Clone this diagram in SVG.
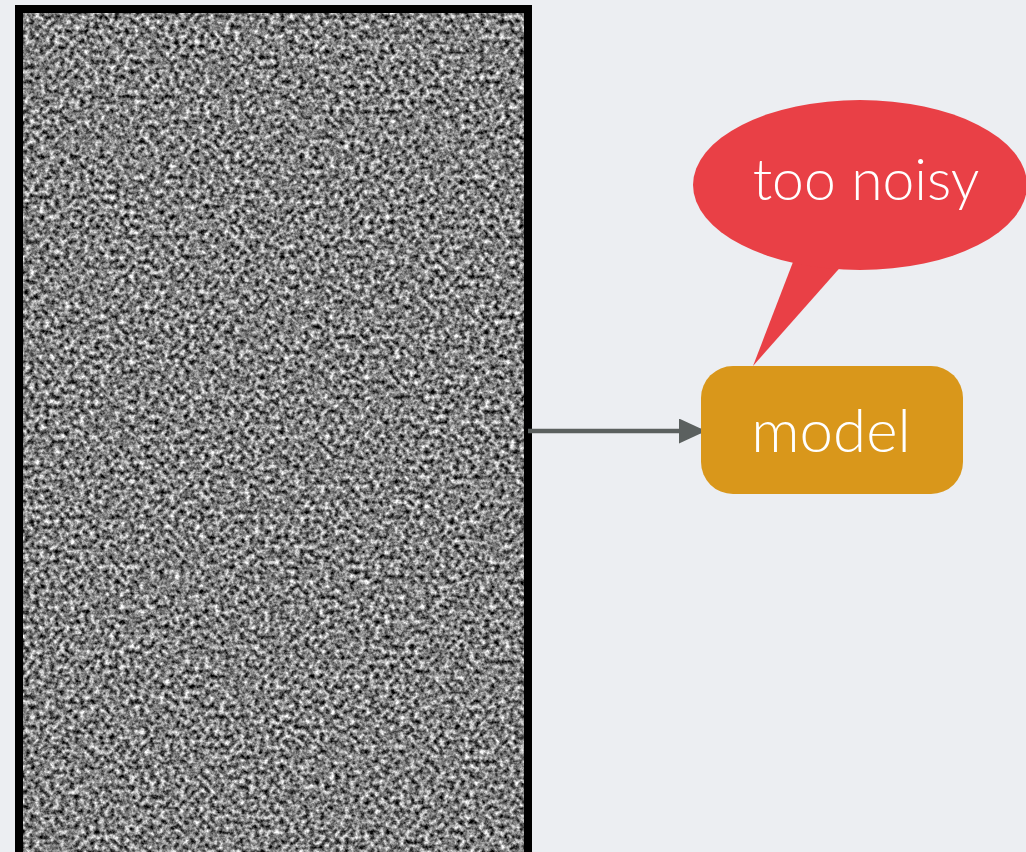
<svg xmlns="http://www.w3.org/2000/svg" width="1026" height="852" viewBox="0 0 1026 852">
  <style>
    .label { font-family: Lato, "Open Sans", "Liberation Sans", sans-serif; font-weight: 300; fill: #ffffff; text-anchor: middle; }
    .edge { stroke: #5b605f; stroke-width: 4.5; fill: none; }
  </style>
  <defs>
    <filter id="noise" filterUnits="userSpaceOnUse" x="19" y="9" width="509" height="843" color-interpolation-filters="sRGB">
      <feTurbulence type="fractalNoise" baseFrequency="0.2" numOctaves="3" seed="7" result="t"/>
      <feColorMatrix in="t" type="matrix" values="1.6 0 0 0 -0.3  1.6 0 0 0 -0.3  1.6 0 0 0 -0.3  0 0 0 0 1"/>
      <feGaussianBlur stdDeviation="0.6"/>
    </filter>
    <marker id="arrow" markerWidth="27" markerHeight="25" refX="27" refY="12.5" orient="auto" markerUnits="userSpaceOnUse">
      <path d="M0,0 L27,12.5 L0,25 Z" fill="#5b605f"/>
    </marker>
  </defs>
  <rect width="1026" height="852" fill="#eceef2"/>
  <g id="noise-image">
    <rect x="19" y="9" width="509" height="843" fill="#808080" filter="url(#noise)"/>
    <rect x="19" y="9" width="509" height="847" fill="none" stroke="#000" stroke-width="8"/>
  </g>
  <g id="connectors">
    <line class="edge" x1="528" y1="431" x2="706" y2="431" marker-end="url(#arrow)"/>
  </g>
  <g id="bubble">
    <path d="M793,262 L753,366 L845,262 Z" fill="#e94046"/>
    <ellipse cx="860" cy="185" rx="167" ry="85" fill="#e94046"/>
    <text class="label" x="866" y="200" font-size="57">too noisy</text>
  </g>
  <g id="model">
    <rect x="701" y="366" width="262" height="128" rx="32" fill="#d9971b"/>
    <text class="label" x="831" y="452" font-size="60">model</text>
  </g>
</svg>
